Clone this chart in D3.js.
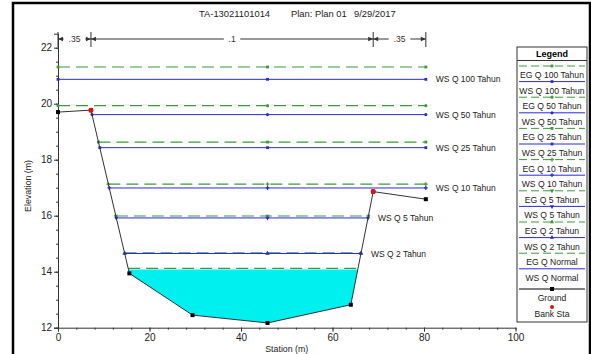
<!DOCTYPE html>
<html>
<head>
<meta charset="utf-8">
<script src="https://cdn.jsdelivr.net/npm/d3@7"></script>
<style>
  body { margin: 0; background: #fff; }
  svg { display: block; font-family: "Liberation Sans", Arial, sans-serif; }
</style>
</head>
<body>
<svg id="chart" width="591" height="354"></svg>
<script>
// ground geometry (station m, elevation m)
const groundSta = [0, 7.2, 15.6, 29.4, 45.8, 64.0, 68.9, 80.4];
const groundElev = [19.70, 19.77, 13.94, 12.45, 12.17, 12.82, 16.86, 16.59];
const bankSta = [7.2, 68.9];

// manning n regions
const nBreaks = [0, 7.2, 68.9, 80.4];
const nLabels = [".35", ".1", ".35"];

// profiles
const profileNames = ["Q 100 Tahun", "Q 50 Tahun", "Q 25 Tahun", "Q 10 Tahun", "Q 5 Tahun", "Q 2  Tahun", "Q Normal"];
const wsElev = [20.87, 19.61, 18.43, 16.99, 15.92, 14.65, 14.08];
const egElev = [21.31, 19.93, 18.63, 17.13, 15.99, 14.67, 14.12];
const profileSymbols = ["square", "circle", "square", "cross", "triDown", "triUp", null];

const xTicks = [0, 20, 40, 60, 80, 100];
const yTicks = [12, 14, 16, 18, 20, 22];

const wsColor = "#2a2ad8";
const egColor = "#3c9a3c";

const svg = d3.select("#chart");

// frame
svg.append("rect").attr("x", 13).attr("y", 3).attr("width", 577).attr("height", 370)
  .attr("fill", "none").attr("stroke", "#000").attr("stroke-width", 2.5);

const x = d3.scaleLinear().domain([0, 100]).range([58, 515.5]);
const y = d3.scaleLinear().domain([12, 22.5]).range([327.7, 33.7]);

// title
const title = svg.append("g").attr("font-size", 9.4).attr("fill", "#222");
title.append("text").attr("x", 199).attr("y", 17).text("TA-13021101014");
title.append("text").attr("x", 291).attr("y", 17).text("Plan: Plan 01");
title.append("text").attr("x", 354).attr("y", 17).text("9/29/2017");

// axes
const axisG = svg.append("g").attr("font-size", 8.8);
axisG.append("g").attr("transform", `translate(${x(0)},0)`)
  .call(d3.axisLeft(y).tickValues(yTicks).tickSize(4).tickPadding(2).tickFormat(d3.format("d")));
axisG.append("g").attr("transform", `translate(${x(0)},0)`)
  .call(d3.axisLeft(y).tickValues(d3.range(12, 22.5, 0.5)).tickSize(2).tickFormat(""))
  .select(".domain").remove();
axisG.append("g").attr("transform", `translate(0,${y(12)})`)
  .call(d3.axisBottom(x).tickValues(xTicks).tickSize(4).tickPadding(2).tickSizeOuter(0));
axisG.append("g").attr("transform", `translate(0,${y(12)})`)
  .call(d3.axisBottom(x).tickValues(d3.range(0, 101, 4)).tickSize(2).tickFormat(""))
  .select(".domain").remove();
axisG.selectAll("text").attr("font-family", "Liberation Sans, Arial, sans-serif").attr("fill", "#222");
axisG.selectAll(".domain, .tick line").attr("stroke", "#333");

svg.append("text").attr("transform", `translate(31,186) rotate(-90)`)
  .attr("text-anchor", "middle").attr("font-size", 8.8).attr("fill", "#222").text("Elevation (m)");
svg.append("text").attr("x", (x(0) + x(100)) / 2).attr("y", 352)
  .attr("text-anchor", "middle").attr("font-size", 8.8).attr("fill", "#222").text("Station (m)");

// intersections of a level with the ground polyline
function extent(level) {
  let left = groundSta[0], right = groundSta[groundSta.length - 1];
  for (let i = 0; i < groundSta.length - 1; i++) {
    const e0 = groundElev[i], e1 = groundElev[i + 1];
    if (e0 >= level && e1 < level) {
      left = groundSta[i] + (e0 - level) / (e0 - e1) * (groundSta[i + 1] - groundSta[i]);
    }
    if (e0 < level && e1 >= level) {
      right = groundSta[i] + (level - e0) / (e1 - e0) * (groundSta[i + 1] - groundSta[i]);
    }
  }
  return [left, right];
}

const line = d3.line().x(d => x(d[0])).y(d => y(d[1]));

// water fill for normal profile
const lastWs = wsElev[wsElev.length - 1];
const [fl, fr] = extent(lastWs);
const fillPts = [[fl, lastWs]];
groundSta.forEach((s, i) => { if (s > fl && s < fr) fillPts.push([s, groundElev[i]]); });
fillPts.push([fr, lastWs]);
svg.append("path").attr("d", line(fillPts) + "Z").attr("fill", "#00f0f0").attr("stroke", "none");

function symbolPath(kind, size) {
  const types = {
    square: d3.symbolSquare, circle: d3.symbolCircle, cross: d3.symbolCross,
    triUp: d3.symbolTriangle, triDown: d3.symbolTriangle
  };
  return d3.symbol().type(types[kind]).size(size)();
}

function drawMarker(g, kind, px, py, color, size) {
  if (!kind) return;
  g.append("path").attr("d", symbolPath(kind, size))
    .attr("transform", `translate(${px},${py})${kind === "triDown" ? " rotate(180)" : ""}`)
    .attr("fill", color);
}

const thalweg = groundSta[groundElev.indexOf(d3.min(groundElev))];
const profG = svg.append("g");

profileNames.forEach((name, i) => {
  // energy grade line
  const [el, er] = extent(egElev[i]);
  profG.append("path").attr("d", line([[el, egElev[i]], [er, egElev[i]]]))
    .attr("stroke", egColor).attr("stroke-width", 1.2).attr("stroke-dasharray", "12,6").attr("fill", "none");
  [el, thalweg, er].forEach(s => drawMarker(profG, profileSymbols[i], x(s), y(egElev[i]), egColor, 8));

  // water surface
  const [wl, wr] = extent(wsElev[i]);
  if (i < profileNames.length - 1) {
    profG.append("path").attr("d", line([[wl, wsElev[i]], [wr, wsElev[i]]]))
      .attr("stroke", wsColor).attr("stroke-width", 1).attr("fill", "none");
    [wl, thalweg, wr].forEach(s => drawMarker(profG, profileSymbols[i], x(s), y(wsElev[i]), wsColor, 8));
    profG.append("text").attr("x", x(wr) + 10).attr("y", y(wsElev[i]) + 3)
      .attr("font-size", 8.5).attr("fill", "#222").text("WS " + name);
  }
});

// ground
const groundPts = groundSta.map((s, i) => [s, groundElev[i]]);
svg.append("path").attr("d", line(groundPts)).attr("fill", "none").attr("stroke", "#333").attr("stroke-width", 1);
svg.selectAll(".gpt").data(groundPts).join("rect")
  .attr("x", d => x(d[0]) - 2).attr("y", d => y(d[1]) - 2)
  .attr("width", 4).attr("height", 4).attr("fill", "#000");
svg.selectAll(".bank").data(bankSta).join("circle")
  .attr("cx", d => x(d)).attr("cy", d => y(groundElev[groundSta.indexOf(d)]))
  .attr("r", 2.5).attr("fill", "#e01010");

// manning n annotation
const nG = svg.append("g").attr("stroke", "#333").attr("fill", "#333");
const nY = 39;
nBreaks.forEach(s => {
  nG.append("line").attr("x1", x(s)).attr("x2", x(s)).attr("y1", 32).attr("y2", 47).attr("stroke-width", 1);
});
nLabels.forEach((lab, i) => {
  const a = x(nBreaks[i]), b = x(nBreaks[i + 1]), m = (a + b) / 2;
  const half = lab.length * 2.6 + 3;
  nG.append("line").attr("x1", a).attr("x2", m - half).attr("y1", nY).attr("y2", nY);
  nG.append("line").attr("x1", m + half).attr("x2", b).attr("y1", nY).attr("y2", nY);
  nG.append("path").attr("d", `M${a},${nY}l5,-2.2v4.4z`).attr("stroke", "none");
  nG.append("path").attr("d", `M${b},${nY}l-5,-2.2v4.4z`).attr("stroke", "none");
  nG.append("text").attr("x", m).attr("y", nY + 3).attr("text-anchor", "middle")
    .attr("stroke", "none").attr("font-size", 8.5).text(lab);
});

// legend
const lg = svg.append("g");
const lx0 = 517, lx1 = 587, lcx = (lx0 + lx1) / 2;
lg.append("rect").attr("x", lx0).attr("y", 47).attr("width", lx1 - lx0).attr("height", 275)
  .attr("fill", "#fff").attr("stroke", "#333").attr("stroke-width", 1);
lg.append("text").attr("x", lcx).attr("y", 57).attr("text-anchor", "middle")
  .attr("font-size", 9).attr("font-weight", "bold").text("Legend");
lg.append("line").attr("x1", lx0).attr("x2", lx1).attr("y1", 60.5).attr("y2", 60.5).attr("stroke", "#333");

let row = 0;
const rowY = r => 78 + r * 15.6;
profileNames.forEach((name, i) => {
  [["EG", egColor, "8,4"], ["WS", wsColor, null]].forEach(([kind, color, dash]) => {
    const ty = rowY(row);
    lg.append("line").attr("x1", lx0 + 2).attr("x2", lx1 - 2).attr("y1", ty - 12).attr("y2", ty - 12)
      .attr("stroke", color).attr("stroke-width", 1).attr("stroke-dasharray", dash);
    drawMarker(lg, profileSymbols[i], lcx, ty - 12, color, 8);
    lg.append("text").attr("x", lcx).attr("y", ty).attr("text-anchor", "middle")
      .attr("font-size", 8.6).attr("fill", "#222").text(kind + " " + name);
    row++;
  });
});
lg.append("line").attr("x1", lx0 + 2).attr("x2", lx1 - 2).attr("y1", 289).attr("y2", 289).attr("stroke", "#000");
lg.append("rect").attr("x", lcx - 2).attr("y", 287).attr("width", 4).attr("height", 4).attr("fill", "#000");
lg.append("text").attr("x", lcx).attr("y", 301).attr("text-anchor", "middle").attr("font-size", 8.6).attr("fill", "#222").text("Ground");
lg.append("circle").attr("cx", lcx).attr("cy", 307).attr("r", 2).attr("fill", "#e01010");
lg.append("text").attr("x", lcx).attr("y", 317).attr("text-anchor", "middle").attr("font-size", 8.6).attr("fill", "#222").text("Bank Sta");
</script>
</body>
</html>
